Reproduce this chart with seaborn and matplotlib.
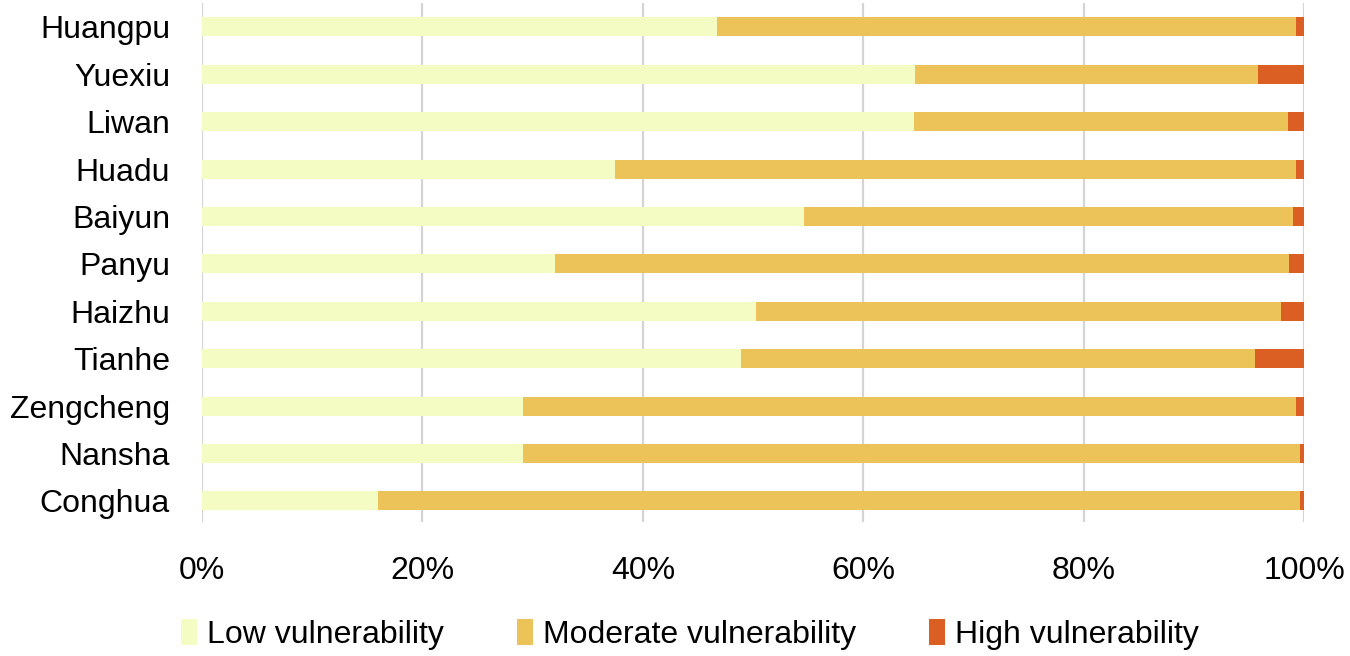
import pandas as pd
import matplotlib.pyplot as plt
import seaborn as sns

# District vulnerability shares (%)
districts = ["Huangpu", "Yuexiu", "Liwan", "Huadu", "Baiyun", "Panyu",
             "Haizhu", "Tianhe", "Zengcheng", "Nansha", "Conghua"]
low = [46.7, 64.7, 64.6, 37.5, 54.6, 32.0, 50.3, 48.9, 29.1, 29.1, 16.0]
moderate = [52.6, 31.1, 33.9, 61.8, 44.4, 66.6, 47.6, 46.6, 70.2, 70.5, 83.6]
high = [0.7, 4.2, 1.5, 0.7, 1.0, 1.4, 2.1, 4.5, 0.7, 0.4, 0.4]

labels = ["Low vulnerability", "Moderate vulnerability", "High vulnerability"]
colors = ["#F4FCC4", "#ECC358", "#DB5F22"]

df = pd.DataFrame({"District": districts, "Low": low, "Moderate": moderate, "High": high})
df["c_low"] = df["Low"]
df["c_mod"] = df["Low"] + df["Moderate"]
df["c_high"] = df["Low"] + df["Moderate"] + df["High"]

sns.set_style("white")
plt.rcParams["font.family"] = ["Liberation Sans", "DejaVu Sans"]
plt.rcParams["text.color"] = "black"
plt.rcParams["xtick.color"] = "black"
plt.rcParams["ytick.color"] = "black"

fig = plt.figure(figsize=(13.5, 6.56), dpi=100)
ax = fig.add_axes([0.1496, 0.204, 0.8164, 0.791])

# stacked bars drawn as overlapping cumulative layers
for col, color, lab in zip(["c_high", "c_mod", "c_low"], colors[::-1], labels[::-1]):
    sns.barplot(data=df, x=col, y="District", orient="h", color=color,
                width=0.4, ax=ax, label=lab, linewidth=0, saturation=1)

ax.set_xlim(0, 100)
ax.set_ylim(10.45, -0.5)
ax.set_xticks([0, 20, 40, 60, 80, 100])
ax.set_xticklabels([f"{v}%" for v in [0, 20, 40, 60, 80, 100]])
ax.set_xlabel("")
ax.set_ylabel("")
ax.grid(axis="x", color="#D4D4D4", linewidth=1.6)
ax.set_axisbelow(True)
sns.despine(ax=ax, left=True, bottom=True)
ax.tick_params(axis="x", length=0, pad=24, labelsize=23, labelcolor="black")
ax.tick_params(axis="y", length=0, pad=23, labelsize=23, labelcolor="black")

handles, labs = ax.get_legend_handles_labels()
if ax.get_legend() is not None:
    ax.get_legend().remove()
order = [labs.index(l) for l in labels]
fig.legend([handles[i] for i in order], [labs[i] for i in order],
           loc="center", bbox_to_anchor=(0.511, 0.033), ncol=3, frameon=False,
           fontsize=23, handlelength=0.5, handleheight=0.9, handletextpad=0.3,
           columnspacing=2.3)

fig.savefig("out.png", dpi=100)
